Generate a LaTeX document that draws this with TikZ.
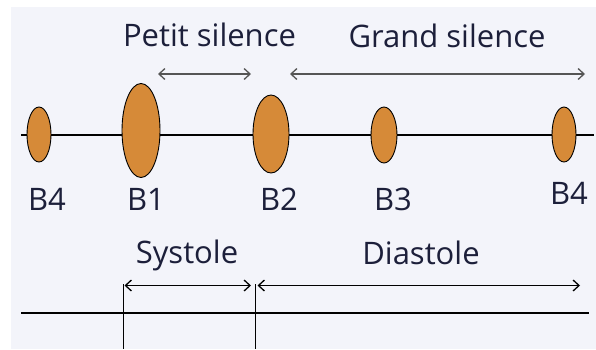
\documentclass[tikz,border=0pt]{standalone}
\usepackage{fontspec}
\setmainfont{Open Sans}
\usetikzlibrary{shapes.geometric,arrows.meta}
\definecolor{bgpanel}{HTML}{F3F4FA}
\definecolor{inkblue}{HTML}{1C1F3A}
\definecolor{sound}{HTML}{D68A38}
\definecolor{spanline}{HTML}{555555}
\tikzset{
  heart/.style={ellipse, draw=black, line width=0.9pt, fill=sound, inner sep=0pt},
  lbl/.style={text=inkblue, font=\fontsize{31}{36}\selectfont, inner sep=0pt, anchor=base},
  axis/.style={black, line width=1.4pt},
  span/.style={line width=1.3pt, {Straight Barb[length=6pt,width=11pt]}-{Straight Barb[length=6pt,width=11pt]}},
}
\begin{document}
\begin{tikzpicture}[x=1pt,y=-1pt]
  \useasboundingbox (0,0) rectangle (596,349);
  \fill[white] (0,0) rectangle (596,349);
  \fill[bgpanel] (11,7) rectangle (596,349);

  % main time axis with the heart sounds
  \coordinate (axL) at (21,135);
  \coordinate (axR) at (594,135);
  \draw[axis] (axL) -- (axR);
  \node[heart, minimum width=24, minimum height=55] (b4a) at (39,134.5) {};
  \node[heart, minimum width=38, minimum height=94] (b1) at (141,130.5) {};
  \node[heart, minimum width=36, minimum height=78] (b2) at (271,134) {};
  \node[heart, minimum width=26, minimum height=56] (b3) at (384,135) {};
  \node[heart, minimum width=24, minimum height=55] (b4b) at (564,134.5) {};

  \node[lbl] (tb4a) at (47,210) {B4};
  \node[lbl] (tb1) at (146,210) {B1};
  \node[lbl] (tb2) at (279,210) {B2};
  \node[lbl] (tb3) at (393,210) {B3};
  \node[lbl] (tb4b) at (569,204) {B4};

  % silences
  \node[lbl] (petit) at (209.5,46) {Petit silence};
  \node[lbl] (grand) at (447,47) {Grand silence};
  \coordinate (ps1) at (158,74);
  \coordinate (ps2) at (251,74);
  \coordinate (gs1) at (290,74);
  \coordinate (gs2) at (585,74);
  \draw[span, spanline] (ps1) -- (ps2);
  \draw[span, spanline] (gs1) -- (gs2);

  % cardiac cycle
  \node[lbl] (sys) at (187,263) {Systole};
  \node[lbl] (dia) at (421,264) {Diastole};
  \coordinate (cyL) at (21,313);
  \coordinate (cyR) at (589,313);
  \draw[axis] (cyL) -- (cyR);
  \coordinate (v1t) at (123.5,284);
  \coordinate (v1b) at (123.5,349);
  \coordinate (v2t) at (255.5,284);
  \coordinate (v2b) at (255.5,349);
  \draw[axis] (v1t) -- (v1b);
  \draw[axis] (v2t) -- (v2b);
  \coordinate (sy1) at (124.5,285.5);
  \coordinate (sy2) at (251,285.5);
  \coordinate (di1) at (257.5,285.5);
  \coordinate (di2) at (580,285.5);
  \draw[span, black] (sy1) -- (sy2);
  \draw[span, black] (di1) -- (di2);
\end{tikzpicture}
\end{document}
